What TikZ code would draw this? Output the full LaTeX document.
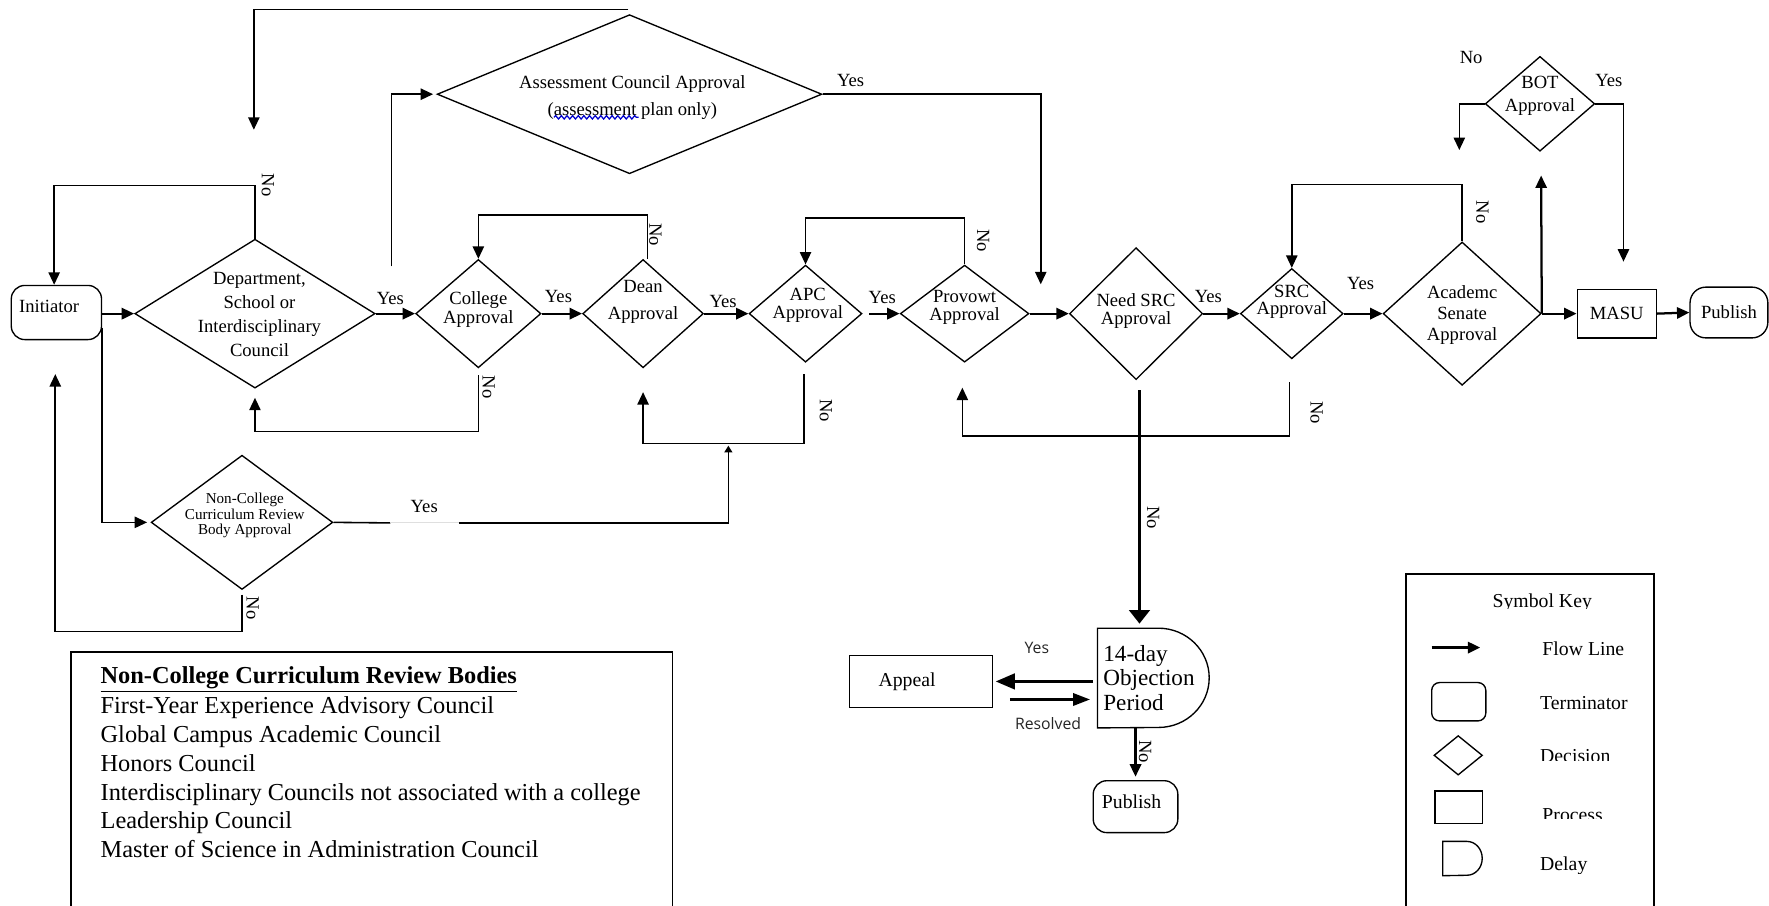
\documentclass[tikz,border=0pt]{standalone}
\usepackage{fontspec}
\setmainfont{Liberation Serif}
\newfontfamily\uisans{Open Sans}
\usetikzlibrary{arrows.meta,shapes.geometric,decorations.pathmorphing,calc}
\newcommand\fsz[2]{\fontsize{#1}{#2}\selectfont}
\begin{document}
\begin{tikzpicture}[x=1pt,y=-1pt,
  shp/.style={draw,line width=1.2pt,inner sep=0pt},
  dia/.style={shp,diamond},
  termbox/.style={shp,rectangle,rounded corners=12pt},
  procbox/.style={shp,rectangle},
  txt/.style={font=\fsz{16.5}{17},align=center,inner sep=0pt},
  lbl/.style={font=\fsz{16.5}{16.5},inner sep=0pt},
  nolbl/.style={lbl,rotate=-90},
  sanslbl/.style={font=\uisans\fsz{14}{14},inner sep=0pt,text=black!85},
  keytxt/.style={font=\fsz{17.5}{17.5},inner sep=0pt},
  arrowtip/.style={-{Triangle[length=11pt,width=10pt]}},
  fwd/.style={line width=2pt,arrowtip},
  ret/.style={line width=1.4pt,arrowtip},
  bare/.style={line width=1.4pt},
  outl/.style={line width=1.5pt},
]
\useasboundingbox (0,0) rectangle (1568,803);
\fill[white] (0,0) rectangle (1568,803);

% ---------- main row
\node[termbox,minimum width=80pt,minimum height=48pt,
  label={[txt,xshift=-6.5pt,yshift=5pt]center:Initiator}] (init) at (50,277) {};
\node[dia,minimum width=213pt,minimum height=132pt,
  label={[txt,font=\fsz{16.5}{21.3},xshift=4pt,yshift=-1pt]center:{Department,\\School or\\Interdisciplinary\\Council}}] (dept) at (226,278) {};
\node[dia,minimum width=111pt,minimum height=96pt,
  label={[txt,yshift=3.5pt]center:{College\\Approval}}] (college) at (424,278) {};
\node[dia,minimum width=107pt,minimum height=96pt,
  label={[txt,font=\fsz{16.5}{23.7},yshift=10.5pt]center:{Dean\\Approval}}] (dean) at (570,278) {};
\node[dia,minimum width=100pt,minimum height=86pt,
  label={[txt,font=\fsz{16.5}{16},xshift=2pt,yshift=7pt]center:{APC\\Approval}}] (apc) at (714,278) {};
\node[dia,minimum width=114pt,minimum height=86pt,
  label={[txt,font=\fsz{16.5}{16},yshift=5.5pt]center:{Provowt\\Approval}}] (prov) at (855,278) {};
\node[dia,minimum width=118pt,minimum height=117pt,
  label={[txt,font=\fsz{16.5}{16},yshift=2.5pt]center:{Need SRC\\Approval}}] (need) at (1007,278) {};
\node[dia,minimum width=91pt,minimum height=80pt,
  label={[txt,font=\fsz{16.5}{15},yshift=10.5pt]center:{SRC\\Approval}}] (src) at (1145,278) {};
\node[dia,minimum width=140pt,minimum height=127pt,
  label={[txt,font=\fsz{16.5}{18.5},yshift=-1.5pt]center:{Academc\\Senate\\Approval}}] (acad) at (1296,278) {};
\node[procbox,txt,minimum width=70pt,minimum height=43pt] (masu) at (1433,278) {MASU};
\node[termbox,txt,rounded corners=14pt,minimum width=69pt,minimum height=45pt] (pub) at (1532.5,277) {Publish};

% ---------- upper branch
\node[dia,minimum width=341pt,minimum height=141pt,
  label={[txt,font=\fsz{16.5}{23.6},xshift=2.5pt,yshift=-3pt]center:{Assessment Council Approval\\(assessment plan only)}}] (assess) at (558,83.5) {};
\draw[blue!80!black,line width=1.1pt,decorate,decoration={snake,segment length=5pt,amplitude=1.5pt}]
  (491,104) -- (566,104);
\node[dia,minimum width=97pt,minimum height=84pt,
  label={[txt,font=\fsz{16.5}{20},yshift=7pt]center:{BOT\\Approval}}] (bot) at (1365,92) {};

% ---------- lower branch
\node[dia,minimum width=161pt,minimum height=119pt,
  label={[txt,font=\fsz{13.4}{14},xshift=2.5pt,yshift=6pt]center:{Non-College\\Curriculum Review\\Body Approval}}] (nc) at (214.5,463) {};

\node[inner sep=0pt,minimum width=99pt,minimum height=88pt] (delay) at (1022.5,601) {};
\draw[line width=1.2pt] (delay.north west) -- ++(54,0)
  arc[start angle=90,end angle=-90,x radius=45pt,y radius=44pt] -- (delay.south west) -- cycle;
\node[anchor=west,align=left,inner sep=0pt,font=\fsz{20.5}{22}] (delaytext) at ([xshift=5pt]delay.west) {14-day\\Objection\\Period};
\node[procbox,minimum width=127pt,minimum height=46pt,
  label={[txt,font=\fsz{17.5}{17.5},xshift=-12.5pt]center:Appeal}] (appeal) at (816.5,604) {};
\node[termbox,minimum width=75pt,minimum height=46pt,
  label={[txt,font=\fsz{17.5}{17.5},xshift=-3.5pt,yshift=4pt]center:Publish}] (pub2) at (1006.5,715) {};

% ---------- forward flow
\draw[fwd] (init.east |- dept.west) -- (dept.west);
\draw[fwd] (dept.east) -- (college.west);
\draw[fwd] (college.east) -- (dean.west);
\draw[fwd] (dean.east) -- (apc.west);
\draw[fwd] ([xshift=6pt]apc.east) -- (prov.west);
\draw[fwd] (prov.east) -- (need.west);
\draw[fwd] (need.east) -- (src.west);
\draw[fwd] (src.east) -- (acad.west);
\draw[fwd] (acad.east) -- (masu.west);
\draw[fwd] (masu.east) -- (pub.west);

% ---------- assessment council branch
\coordinate (asStart) at (347,236);
\coordinate (asEnd) at (922.5,252);
\coordinate (topR) at (557,8.3);
\coordinate (deptIn) at (225,115);
\draw[ret] (asStart) |- ([xshift=-3pt]assess.west);
\draw[ret] (assess.east) -| (asEnd);
\draw[ret] (topR) -| (deptIn);

% ---------- return loops
\draw[ret] (dept.north) -- ++(0,-47) -| ([xshift=-2pt]init.north);
\draw[ret] ([yshift=-6pt]college.south) -- ++(0,50) -| ([yshift=-8pt]dept.south);
\draw[ret] ([xshift=4pt]dean.north) -- ++(0,-39) -| (college.north);
\draw[ret] ([xshift=-1.5pt,yshift=-10pt]apc.south) -- ++(0,61.6) -| ([yshift=-21pt]dean.south);
\draw[ret] (prov.north) -- ++(0,-41) -| (apc.north);
\draw[ret] ([xshift=-2pt,yshift=-20pt]src.south) -- ++(0,48) -| ([xshift=-2pt,yshift=-22pt]prov.south);
\draw[ret] (acad.north) -- ++(0,-50.5) -| (src.north);

% ---------- non-college route
\draw[ret] ([yshift=-14pt]init.east) |- ([xshift=-3pt]nc.west);
\coordinate (gapL) at (346,463.5);
\coordinate (gapR) at (407,463.5);
\coordinate (apcIn) at (645.6,395);
\draw[bare] (nc.east) -- (gapL);
\draw[gray!25,line width=1pt] (gapL) -- (gapR);
\draw[line width=1.4pt,-{Triangle[length=6pt,width=7pt]}] (gapR) -| (apcIn);
\draw[ret] ([yshift=-4pt]nc.south) -- ++(0,32.5) -| ([xshift=-1pt,yshift=-30pt]init.south);

% ---------- board of trustees
\coordinate (botNo) at (1293.5,133);
\draw[fwd] (acad.east) -- ($(bot.south)+(1,21)$);
\draw[ret] (bot.west) -| (botNo);
\draw[ret] (bot.east) -| ([xshift=6pt,yshift=24pt]masu.north);

% ---------- objection period
\draw[line width=3pt,-{Triangle[length=12pt,width=18pt]}] ([xshift=3pt,yshift=-9pt]need.south) -- ($(delay.north)+(-12.5,-4)$);
\draw[line width=2pt,-{Triangle[length=17pt,width=14pt]}] ([xshift=-4pt]delay.west |- appeal.east) -- ([xshift=2pt]appeal.east);
\draw[line width=2pt,-{Triangle[length=15pt,width=11pt]}] ([xshift=14.5pt,yshift=-16pt]appeal.east) -- ([xshift=-6.7pt,yshift=-16pt]delay.west |- appeal.east);
\draw[fwd] (pub2.north |- delay.south) -- ([yshift=3pt]pub2.north);

% ---------- decision labels
\node[lbl] (y1) at (346,265) {Yes};
\node[lbl] (y2) at (495,263) {Yes};
\node[lbl] (y3) at (641,267) {Yes};
\node[lbl] (y4) at (782,264) {Yes};
\node[lbl] (y5) at (754,71) {Yes};
\node[lbl] (y6) at (1071,263) {Yes};
\node[lbl] (y7) at (1206,251) {Yes};
\node[lbl] (y8) at (1426,71) {Yes};
\node[lbl] (y9) at (376,449) {Yes};
\node[lbl] (n0) at (1304,51) {No};
\node[nolbl] (n1) at (237.5,164) {No};
\node[nolbl] (n2) at (433,343) {No};
\node[nolbl] (n3) at (581,208) {No};
\node[nolbl] (n4) at (871.5,213.5) {No};
\node[nolbl] (n5) at (732,364) {No};
\node[nolbl] (n6) at (1022,459) {No};
\node[nolbl] (n7) at (1167,366) {No};
\node[nolbl] (n8) at (1314,188) {No};
\node[nolbl] (n9) at (224,539) {No};
\node[nolbl] (n10) at (1015,666) {No};
\node[sanslbl] (yA) at (919,574) {Yes};
\node[sanslbl] (rA) at (929,641) {Resolved};

% ---------- list of review bodies
\draw[outl] (63,812) -- (63,578) -| (596,812);
\node[anchor=north west,align=left,inner sep=0pt,font=\fsz{21.6}{25.5}] (crbtext) at (89,591) {%
  \textbf{\underline{Non-College Curriculum Review Bodies}}\\[1pt]
  First-Year Experience Advisory Council\\
  Global Campus Academic Council\\
  Honors Council\\
  Interdisciplinary Councils not associated with a college\\
  Leadership Council\\
  Master of Science in Administration Council};

% ---------- symbol key
\draw[outl] (1246,812) -- (1246,509) -| (1466,812);
\begin{scope}
  \clip (1250,512) rectangle (1460,539.5);
  \node[keytxt,anchor=base] (keyhead) at (1367,538.5) {Symbol Key};
\end{scope}
\draw[line width=2.4pt,arrowtip] (1269,574) -- (1312,574);
\node[keytxt,anchor=base west] (kflow) at (1367,581) {Flow Line};
\node[termbox,rounded corners=7pt,minimum width=48pt,minimum height=34pt] (kterm) at (1293,622) {};
\node[keytxt,anchor=base west] (ktermt) at (1365,629) {Terminator};
\node[dia,minimum width=43pt,minimum height=35pt] (kdia) at (1292.5,669.5) {};
\begin{scope}
  \clip (1355,650) rectangle (1455,674.5);
  \node[keytxt,anchor=base west] (kdiat) at (1365,676) {Decision};
\end{scope}
\node[procbox,minimum width=42pt,minimum height=29pt] (kproc) at (1293,715.5) {};
\begin{scope}
  \clip (1355,700) rectangle (1455,725.8);
  \node[keytxt,anchor=base west] (kproct) at (1367,728.5) {Process};
\end{scope}
\node[inner sep=0pt,minimum width=35pt,minimum height=30pt] (kdelay) at (1296.5,761) {};
\draw[line width=1.2pt] (kdelay.north west) -- ++(21.5,0)
  arc[start angle=90,end angle=-90,x radius=13.5pt,y radius=15pt] -- (kdelay.south west) -- cycle;
\begin{scope}
  \clip (1355,745) rectangle (1455,774);
  \node[keytxt,anchor=base west] (kdelayt) at (1365,772) {Delay};
\end{scope}
\end{tikzpicture}
\end{document}
